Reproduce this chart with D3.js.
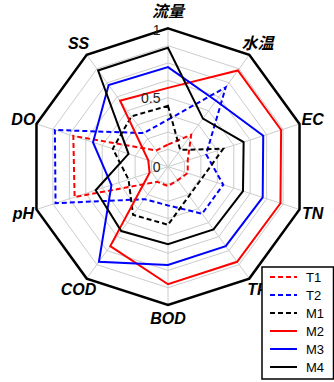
<!DOCTYPE html>
<html>
<head>
<meta charset="utf-8">
<script src="https://cdn.jsdelivr.net/npm/d3@7"></script>
<style>
  html, body { margin: 0; padding: 0; background: #fff; }
  svg { display: block; }
</style>
</head>
<body>
<svg id="chart" width="334" height="382"></svg>
<script>
// Radar axes, clockwise from the top
const axes = ["流量", "水温", "EC", "TN", "TP", "BOD", "COD", "pH", "DO", "SS"];

// Normalised values per site, in axis order
const T1 = [0.16, 0.285, 0.15, 0.15, 0.12, 0.14, 0.135, 0.71, 0.72, 0.145];
const T2 = [0.34, 0.71, 0.29, 0.42, 0.42, 0.28, 0.29, 0.855, 0.86, 0.30];
const M1 = [0.44, 0.15, 0.42, 0.26, 0.26, 0.42, 0.43, 0.30, 0.42, 0.45];
const M2 = [0.57, 0.86, 0.86, 0.855, 0.85, 0.85, 0.71, 0.14, 0.15, 0.59];
const M3 = [0.72, 0.59, 0.724, 0.72, 0.71, 0.71, 0.85, 0.43, 0.57, 0.73];
const M4 = [0.86, 0.43, 0.575, 0.57, 0.56, 0.56, 0.575, 0.55, 0.30, 0.86];

const seriesNames = ["T1", "T2", "M1", "M2", "M3", "M4"];
const seriesValues = [T1, T2, M1, M2, M3, M4];
const seriesColors = ["#ff0000", "#0000ff", "#000000", "#ff0000", "#0000ff", "#000000"];
const seriesDashed = [true, true, true, false, false, false];

const tickLabels = [0, 0.5, 1];
const gridSteps = d3.range(1, 9).map(i => i / 8);

const cx = 168, cy = 166.7, R = 138.3;
const svg = d3.select("#chart");
const g = svg.append("g").attr("transform", `translate(${cx},${cy})`);

const r = d3.scaleLinear().domain([0, 1]).range([0, R]);
const angle = d3.scaleLinear().domain([0, axes.length]).range([0, 2 * Math.PI]);

const radial = d3.lineRadial()
  .angle((d, i) => angle(i))
  .radius(d => r(d))
  .curve(d3.curveLinearClosed);

const px = (v, i) => r(v) * Math.sin(angle(i));
const py = (v, i) => -r(v) * Math.cos(angle(i));

// grid rings
g.selectAll("path.ring")
  .data(gridSteps)
  .join("path")
  .attr("class", "ring")
  .attr("d", s => radial(axes.map(() => s)))
  .attr("fill", "none")
  .attr("stroke", "#cccccc")
  .attr("stroke-width", 1);

// spokes
g.selectAll("line.spoke")
  .data(axes)
  .join("line")
  .attr("class", "spoke")
  .attr("x1", 0).attr("y1", 0)
  .attr("x2", (d, i) => px(1, i))
  .attr("y2", (d, i) => py(1, i))
  .attr("stroke", "#cccccc")
  .attr("stroke-width", 1);

// series
g.selectAll("path.series")
  .data(seriesValues)
  .join("path")
  .attr("class", "series")
  .attr("d", d => radial(d))
  .attr("fill", "none")
  .attr("stroke", (d, i) => seriesColors[i])
  .attr("stroke-width", 2)
  .attr("stroke-linejoin", "miter")
  .attr("stroke-dasharray", (d, i) => seriesDashed[i] ? "5,3" : null);

// outer frame
g.append("path")
  .attr("d", radial(axes.map(() => 1)))
  .attr("fill", "none")
  .attr("stroke", "#000")
  .attr("stroke-width", 2.5)
  .attr("stroke-linejoin", "miter");

// radial tick labels
g.selectAll("text.tick")
  .data(tickLabels)
  .join("text")
  .attr("class", "tick")
  .attr("x", -7.5)
  .attr("y", d => -r(d) + (d === 1 ? 1.5 : 0))
  .attr("text-anchor", "end")
  .attr("dominant-baseline", "central")
  .attr("font-family", "'Liberation Sans', Arial, sans-serif")
  .attr("font-size", 14)
  .attr("fill", "#222")
  .text(d => d);

// axis labels (the top one sits a little higher to clear the "1" tick)
const labelRadius = i => (i === 0 ? 1.125 : 1.1);
g.selectAll("text.axis")
  .data(axes)
  .join("text")
  .attr("class", "axis")
  .attr("x", (d, i) => px(labelRadius(i), i))
  .attr("y", (d, i) => py(labelRadius(i), i))
  .attr("text-anchor", "middle")
  .attr("dominant-baseline", "central")
  .attr("font-family", "'Liberation Sans', Arial, 'Noto Sans CJK SC', sans-serif")
  .attr("font-size", 16)
  .attr("font-weight", "bold")
  .attr("font-style", "italic")
  .attr("fill", "#000")
  .text(d => d);

// legend
const legend = svg.append("g").attr("transform", "translate(262,267)");
legend.append("rect")
  .attr("x", 0).attr("y", 0)
  .attr("width", 71.5).attr("height", 112)
  .attr("fill", "#fff")
  .attr("stroke", "#000")
  .attr("stroke-width", 1.5);

const rows = legend.selectAll("g.row")
  .data(seriesNames)
  .join("g")
  .attr("class", "row")
  .attr("transform", (d, i) => `translate(0,${10 + i * 18})`);

rows.append("line")
  .attr("x1", 8).attr("x2", 35)
  .attr("y1", 0).attr("y2", 0)
  .attr("stroke", (d, i) => seriesColors[i])
  .attr("stroke-width", 2)
  .attr("stroke-dasharray", (d, i) => seriesDashed[i] ? "5,3" : null);

rows.append("text")
  .attr("x", 44)
  .attr("y", 0)
  .attr("dominant-baseline", "central")
  .attr("font-family", "'Liberation Sans', Arial, sans-serif")
  .attr("font-size", 13)
  .attr("fill", "#000")
  .text(d => d);
</script>
</body>
</html>
